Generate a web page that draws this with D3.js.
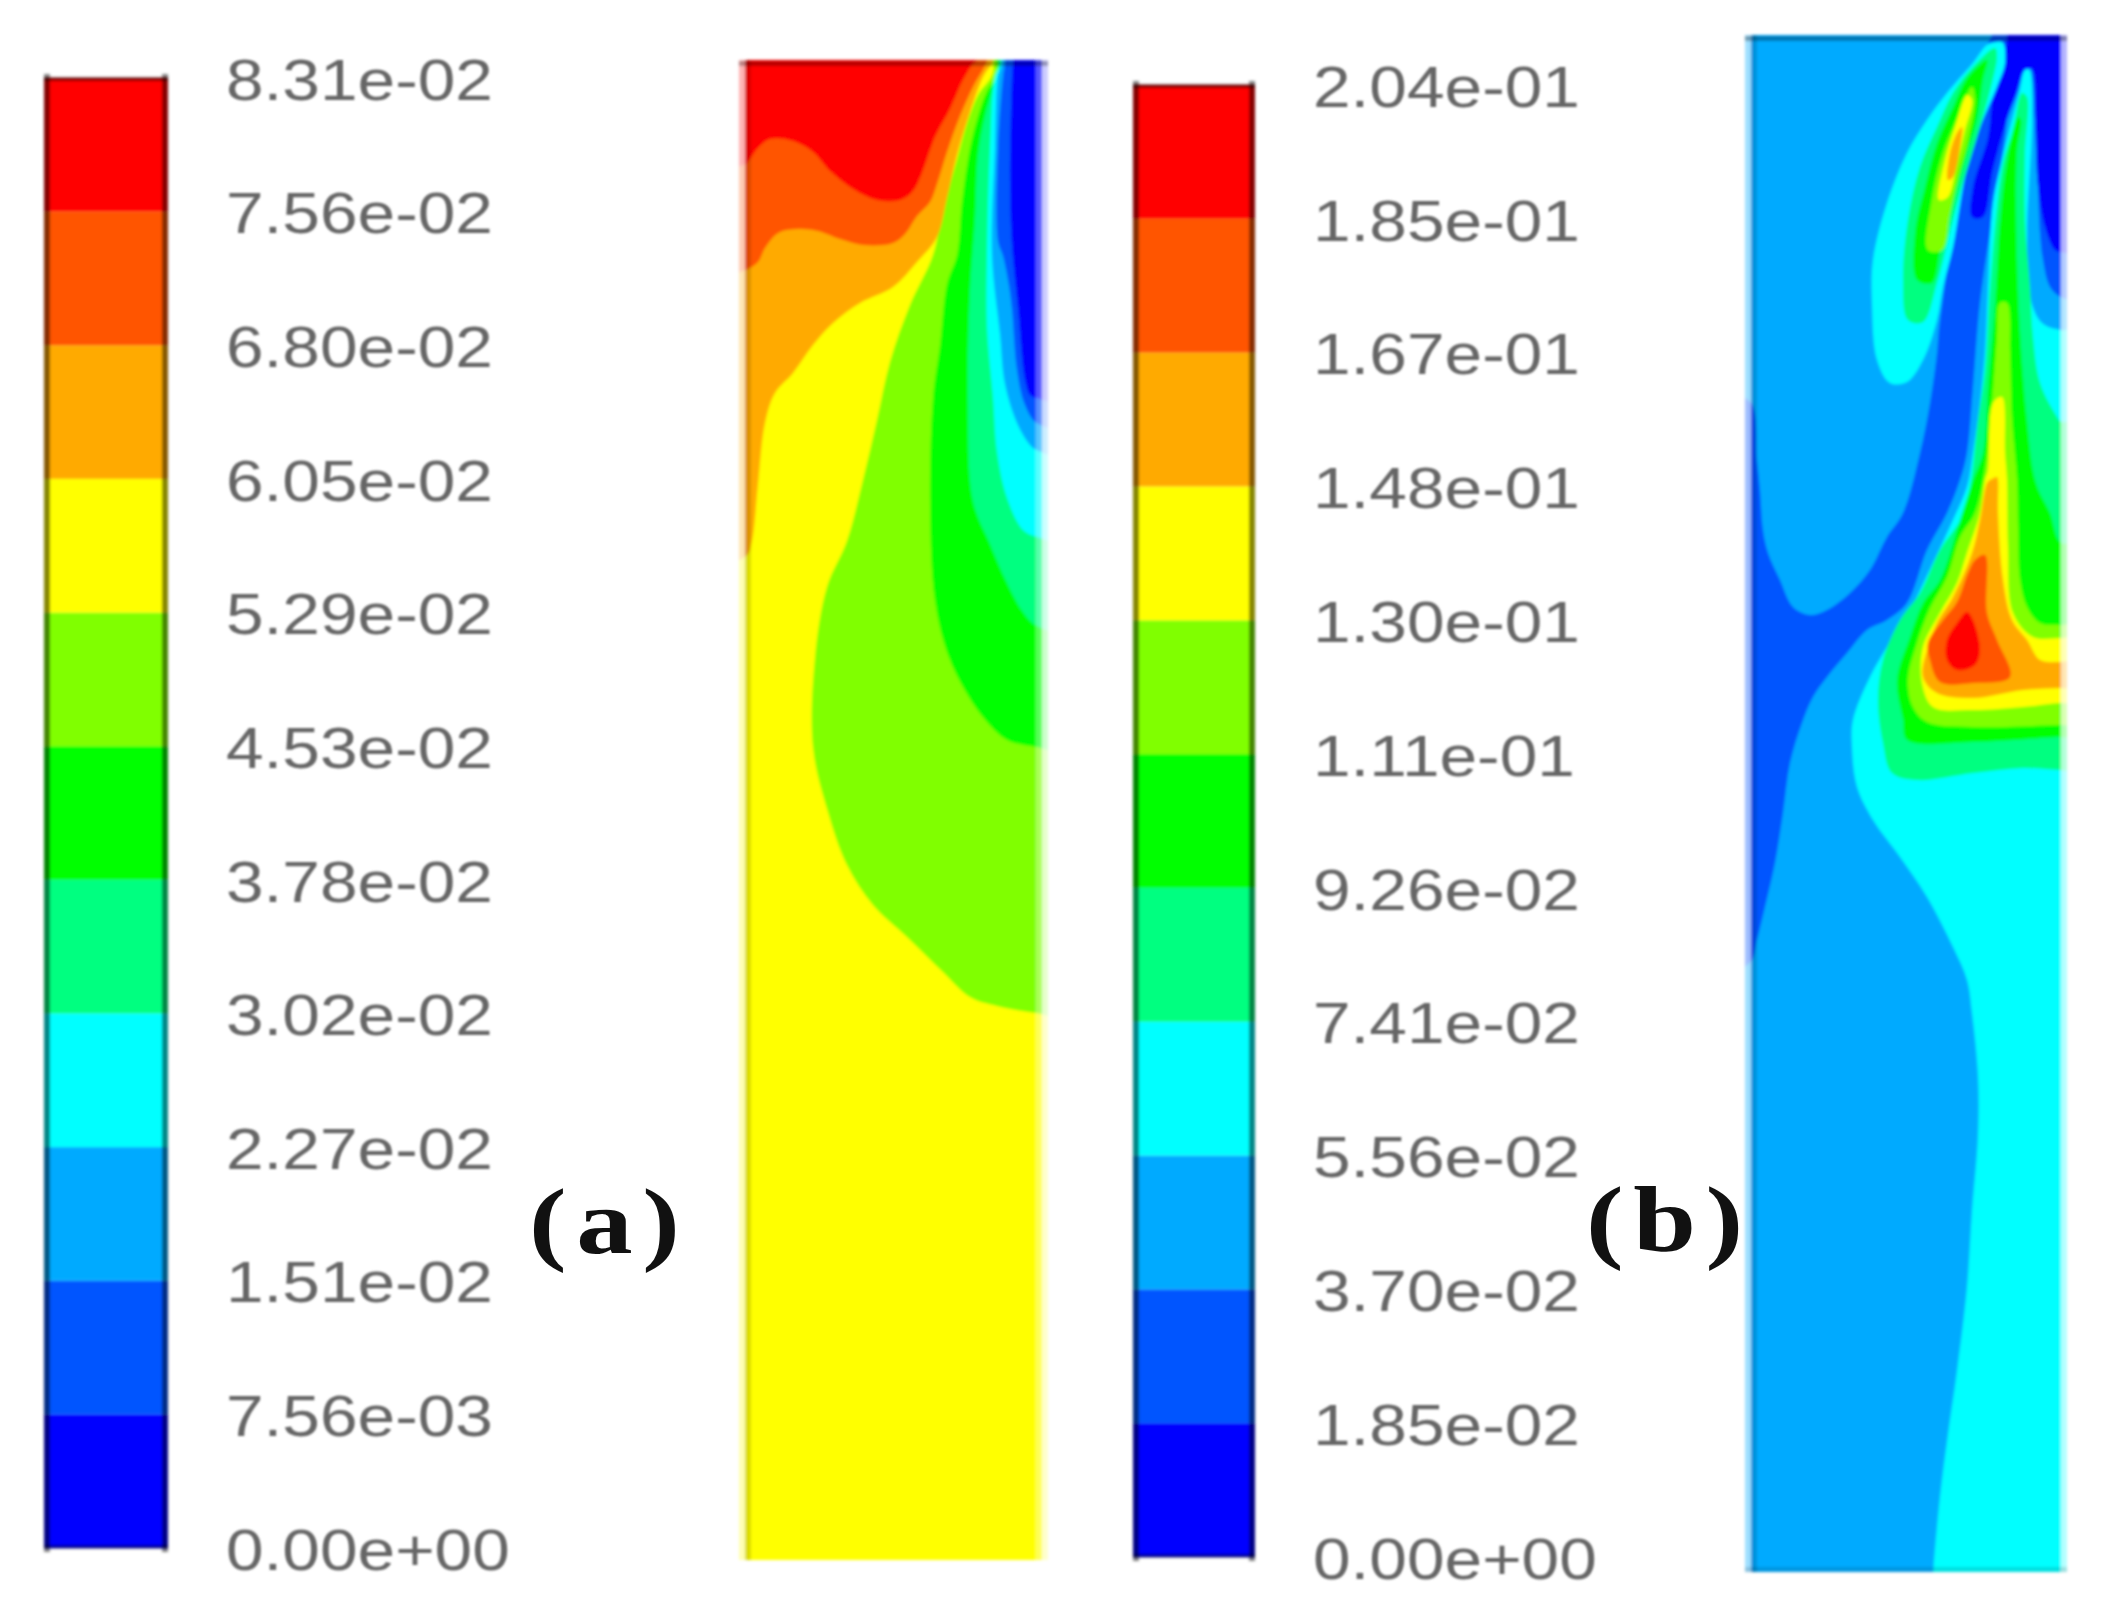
<!DOCTYPE html>
<html>
<head>
<meta charset="utf-8">
<script src="https://cdnjs.cloudflare.com/ajax/libs/d3/7.8.5/d3.min.js"></script>
<style>
  html, body { margin: 0; padding: 0; background: #fff; }
  svg { display: block; }
</style>
</head>
<body>
<div id="chart"></div>
<script>
// contour levels on the two legends
var labelsA = ['8.31e-02','7.56e-02','6.80e-02','6.05e-02','5.29e-02','4.53e-02','3.78e-02','3.02e-02','2.27e-02','1.51e-02','7.56e-03','0.00e+00'];
var labelsB = ['2.04e-01','1.85e-01','1.67e-01','1.48e-01','1.30e-01','1.11e-01','9.26e-02','7.41e-02','5.56e-02','3.70e-02','1.85e-02','0.00e+00'];
// band colours, lowest level first
var bandColors = ['#0000ff','#0055ff','#00aaff','#00ffff','#00ff80','#00ff00','#80ff00','#ffff00','#ffaa00','#ff5500','#ff0000'];

// panel (a) contour boundaries, [x, y] inside the domain 0-297 by 0-1499
var aLime = [[248,12],[233,34],[222,62],[212,98],[198,148],[188,194],[165,244],[145,301],[132,359],[118,419],[102,480],[82,526],[70,597],[68,686],[83,751],[102,804],[128,844],[162,876],[198,911],[225,936],[252,945],[292,952],[330,955],[330,-20],[248,-20]];
var aGreen = [[252,14],[242,30],[233,55],[225,87],[217,141],[212,194],[202,223],[195,284],[188,337],[185,444],[190,540],[203,594],[222,633],[242,661],[262,679],[292,686],[330,690],[330,-20],[252,-20]];
var aSpring = [[254,5],[248,26],[240,55],[233,94],[230,159],[225,230],[223,337],[228,440],[245,483],[262,522],[278,551],[292,565],[330,570],[330,-20],[254,-20]];
var aCyan = [[256,2],[250,16],[245,87],[242,194],[242,266],[248,337],[252,391],[262,437],[278,469],[292,476],[330,480],[330,-20],[256,-20]];
var aAzure = [[257,2],[253,16],[250,87],[247,194],[255,273],[260,323],[272,362],[285,384],[292,389],[330,395],[330,-20],[257,-20]];
var aBlue = [[260,2],[258,16],[253,87],[253,180],[258,195],[264,225],[267,248],[272,309],[280,344],[292,362],[330,365],[330,-20],[260,-20]];
var aNavy = [[268,1],[267,16],[265,123],[267,184],[273,248],[280,319],[285,334],[292,337],[330,340],[330,-20],[268,-20]];
var aAmber = [[-20,500],[2,494],[7,480],[13,423],[20,362],[30,332],[48,312],[68,284],[88,262],[115,242],[148,226],[172,201],[192,176],[202,137],[212,94],[225,51],[238,16],[248,0],[252,-20],[-20,-20]];
var aOrange = [[-20,212],[0,209],[13,201],[20,187],[35,171],[68,169],[95,178],[118,184],[148,182],[160,173],[172,155],[185,141],[192,123],[202,91],[215,55],[228,26],[242,0],[246,-20],[-20,-20]];
var aRed = [[-20,105],[0,103],[13,87],[25,78],[48,80],[68,91],[85,110],[108,128],[132,139],[155,139],[168,130],[177,112],[190,76],[205,48],[218,19],[228,3],[233,-2],[236,-20],[-20,-20]];

// panel (b) contour boundaries, [x, y] inside the domain 0-310 by 0-1535
var bBand = [[242,-3],[189,284],[186,317],[179,367],[169,417],[152,477],[136,501],[119,534],[99,557],[76,574],[59,579],[42,571],[29,544],[17,517],[12,494],[9,454],[6,424],[0,367],[-20,360],[-20,935],[0,925],[6,904],[14,871],[24,827],[32,777],[39,727],[51,687],[62,661],[76,641],[96,617],[116,594],[136,584],[156,567],[176,514],[196,477],[209,444],[216,417],[222,351],[229,267],[241,184],[256,84],[259,17],[262,-20]];
var bWedge = [[262,-20],[330,-20],[330,262],[310,261],[299,251],[292,224],[289,197],[285,100],[278,20]];
var bNavy = [[256,-3],[252,27],[242,57],[237,101],[222,151],[221,181],[232,181],[242,134],[256,84],[266,57],[274,34],[281,34],[284,84],[287,151],[294,191],[304,214],[310,216],[330,216],[330,-20],[256,-20]];
var bCyan = [[182,1560],[182,1541],[189,1461],[197,1398],[206,1335],[216,1251],[221,1175],[227,1099],[227,1040],[221,977],[216,944],[202,911],[176,861],[149,821],[122,784],[106,751],[101,711],[102,684],[119,641],[136,611],[159,574],[182,527],[202,484],[216,451],[222,417],[229,367],[234,317],[237,251],[242,167],[251,124],[261,84],[269,54],[274,34],[278,34],[281,84],[276,197],[279,261],[291,287],[310,294],[330,294],[330,1560]];
var bSpring = [[271,57],[262,94],[252,127],[246,171],[239,251],[234,334],[227,384],[219,451],[211,481],[189,514],[169,557],[149,584],[132,624],[127,664],[132,707],[141,737],[166,744],[222,737],[272,732],[310,734],[330,734],[330,386],[310,386],[306,381],[289,347],[282,301],[279,251],[274,184],[274,117],[276,61]];
var bGreen = [[267,81],[256,124],[249,184],[244,267],[237,351],[232,417],[222,444],[209,484],[189,544],[172,567],[159,601],[146,644],[152,684],[156,704],[222,706],[310,701],[330,701],[330,507],[310,507],[299,477],[285,447],[276,384],[267,251],[266,117],[270,84]];
var bLime = [[249,267],[246,301],[241,367],[234,434],[224,477],[209,501],[196,541],[179,572],[166,607],[157,644],[162,671],[176,686],[222,691],[310,689],[330,689],[330,589],[310,589],[289,587],[276,571],[269,544],[267,494],[266,444],[261,384],[259,317],[256,267]];
var bYellow = [[242,367],[237,434],[234,444],[229,477],[216,517],[206,547],[189,577],[172,611],[171,647],[182,671],[222,674],[272,671],[310,667],[330,667],[330,602],[310,602],[282,601],[262,577],[257,511],[256,444],[254,417],[251,361]];
var bAmber = [[246,441],[239,444],[236,447],[229,484],[221,517],[202,561],[186,587],[177,611],[172,641],[186,657],[222,662],[272,654],[310,652],[330,652],[330,625],[310,626],[289,624],[276,604],[261,584],[252,544],[247,477],[247,444]];
var bOrange = [[224,524],[234,519],[236,577],[246,604],[259,641],[222,647],[189,646],[179,624],[177,607],[192,584],[206,566],[217,537]];
var bRed = [[216,576],[222,584],[229,614],[224,629],[206,634],[196,624],[196,604],[206,587]];
// top plume of panel (b)
var pCyan = [[246,6],[236,9],[222,27],[196,57],[176,84],[156,117],[136,167],[122,224],[121,267],[126,324],[139,347],[156,346],[172,324],[186,284],[192,251],[202,211],[216,131],[229,91],[246,51],[254,27],[252,7]];
var pSpring = [[244,12],[222,31],[202,57],[186,91],[169,131],[157,184],[152,244],[157,284],[172,286],[186,247],[197,204],[209,157],[219,124],[231,84],[241,47],[246,21]];
var pGreen = [[236,24],[216,42],[202,71],[186,107],[174,151],[164,197],[166,244],[181,247],[189,217],[197,187],[206,151],[216,117],[226,84],[232,44]];
var pLime = [[221,51],[207,81],[192,117],[181,164],[177,214],[191,214],[199,177],[207,141],[217,104],[224,64]];
var pYellow = [[216,59],[204,91],[194,124],[188,164],[197,161],[206,127],[214,94],[221,64]];
var pAmber = [[206,97],[199,117],[197,144],[202,141],[209,111],[211,91]];

var W = 2117, H = 1623;
var svg = d3.select('#chart').append('svg').attr('width', W).attr('height', H);
var defs = svg.append('defs');
defs.append('filter').attr('id', 'soft').attr('x', '-5%').attr('y', '-5%').attr('width', '110%').attr('height', '110%')
    .append('feGaussianBlur').attr('stdDeviation', 1.6);
defs.append('filter').attr('id', 'softText').attr('x', '-5%').attr('y', '-20%').attr('width', '110%').attr('height', '140%')
    .append('feGaussianBlur').attr('stdDeviation', 0.9);

var line = d3.line().curve(d3.curveCatmullRomClosed.alpha(0.5));

function drawLegend(labels, left, right, top, bottom) {
    // the levels are evenly spaced on the bar
    var y = d3.scalePoint().domain(labels).range([top, bottom]);
    var asc = labels.slice().reverse();
    var g = svg.append('g');
    var bars = g.append('g').attr('filter', 'url(#soft)');
    bars.selectAll('rect.band').data(bandColors).enter().append('rect')
        .attr('class', 'band')
        .attr('x', left).attr('width', right - left)
        .attr('y', function(d, i) { return y(asc[i + 1]); })
        .attr('height', function(d, i) { return y(asc[i]) - y(asc[i + 1]); })
        .attr('fill', function(d) { return d; });
    // dark scan edges of the bar
    bars.append('rect').attr('x', left).attr('y', top - 4).attr('width', 6).attr('height', bottom - top + 8).attr('fill', '#000').attr('opacity', 0.48);
    bars.append('rect').attr('x', right - 6).attr('y', top - 4).attr('width', 6).attr('height', bottom - top + 8).attr('fill', '#000').attr('opacity', 0.48);
    bars.append('rect').attr('x', left).attr('y', top - 1).attr('width', right - left).attr('height', 4).attr('fill', '#000').attr('opacity', 0.5);
    bars.append('rect').attr('x', left).attr('y', bottom - 3).attr('width', right - left).attr('height', 4).attr('fill', '#000').attr('opacity', 0.4);

    var axis = d3.axisRight(y).tickSize(0).tickPadding(0);
    var ax = g.append('g').attr('transform', 'translate(' + right + ',0)').attr('filter', 'url(#softText)').call(axis);
    ax.select('.domain').remove();
    // the scan is stretched sideways, so the labels are too
    ax.selectAll('text')
        .attr('font-family', '"Liberation Sans"')
        .attr('font-size', 57)
        .attr('fill', '#666')
        .attr('x', 0)
        .attr('transform', 'translate(58,3) scale(1.186,1)');
}

function drawPanel(id, layers, base, x0, x1, y0, y1, domX, domY) {
    var x = d3.scaleLinear().domain([0, domX]).range([x0, x1]);
    var y = d3.scaleLinear().domain([0, domY]).range([y0, y1]);
    defs.append('clipPath').attr('id', id)
        .append('rect').attr('x', x0 - 6).attr('y', y0 - 1).attr('width', x1 - x0 + 12).attr('height', y1 - y0 + 2);
    var g = svg.append('g').attr('filter', 'url(#soft)');
    var c = g.append('g').attr('clip-path', 'url(#' + id + ')');
    c.append('rect').attr('x', x0 - 6).attr('y', y0 - 1).attr('width', x1 - x0 + 12).attr('height', y1 - y0 + 2).attr('fill', base);
    c.selectAll('path').data(layers).enter().append('path')
        .attr('fill', function(d) { return d.color; })
        .attr('d', function(d) {
            return line(d.points.map(function(p) { return [x(p[0]), y(p[1])]; }));
        });
    return { g: g, x0: x0, x1: x1, y0: y0, y1: y1 };
}

// washed out / dark rims left by the scan
function rims(p, list) {
    p.g.selectAll('rect.rim').data(list).enter().append('rect')
        .attr('class', 'rim')
        .attr('x', function(d) { return d[0] === 'L' ? p.x0 + d[1] : d[0] === 'R' ? p.x1 + d[1] : p.x0 - 6; })
        .attr('y', function(d) { return d[0] === 'T' ? p.y0 + d[1] : d[0] === 'B' ? p.y1 + d[1] : p.y0 - 1; })
        .attr('width', function(d) { return d[0] === 'L' || d[0] === 'R' ? 6 : p.x1 - p.x0 + 12; })
        .attr('height', function(d) { return d[0] === 'L' || d[0] === 'R' ? p.y1 - p.y0 + 2 : 5; })
        .attr('fill', function(d) { return d[2]; })
        .attr('opacity', function(d) { return d[3]; });
}

drawLegend(labelsA, 44, 168, 78, 1548);
drawLegend(labelsB, 1133, 1255, 85, 1557);

var layersA = [
    { color: bandColors[6], points: aLime },
    { color: bandColors[5], points: aGreen },
    { color: bandColors[4], points: aSpring },
    { color: bandColors[3], points: aCyan },
    { color: bandColors[2], points: aAzure },
    { color: bandColors[1], points: aBlue },
    { color: bandColors[0], points: aNavy },
    { color: bandColors[8], points: aAmber },
    { color: bandColors[9], points: aOrange },
    { color: bandColors[10], points: aRed }
];
var layersB = [
    { color: bandColors[1], points: bBand },
    { color: bandColors[1], points: bWedge },
    { color: bandColors[0], points: bNavy },
    { color: bandColors[3], points: bCyan },
    { color: bandColors[4], points: bSpring },
    { color: bandColors[5], points: bGreen },
    { color: bandColors[6], points: bLime },
    { color: bandColors[7], points: bYellow },
    { color: bandColors[8], points: bAmber },
    { color: bandColors[9], points: bOrange },
    { color: bandColors[10], points: bRed },
    { color: bandColors[3], points: pCyan },
    { color: bandColors[4], points: pSpring },
    { color: bandColors[5], points: pGreen },
    { color: bandColors[6], points: pLime },
    { color: bandColors[7], points: pYellow },
    { color: bandColors[8], points: pAmber }
];

var panelA = drawPanel('clipA', layersA, bandColors[7], 745, 1042, 61, 1559, 297, 1498);
var panelB = drawPanel('clipB', layersB, bandColors[2], 1751, 2061, 36, 1571, 310, 1535);

rims(panelA, [['L', -6, '#fff', 0.7], ['L', 0, '#000', 0.14], ['R', -6, '#fff', 0.35], ['R', 0, '#fff', 0.8], ['T', 0, '#000', 0.28]]);
rims(panelB, [['L', -6, '#fff', 0.62], ['L', 0, '#000', 0.14], ['R', 0, '#fff', 0.7], ['T', 0, '#000', 0.3], ['B', -4, '#000', 0.12]]);

// panel tags
var tags = [['(a)', 529, 1253], ['(b)', 1586, 1251]];
svg.selectAll('text.tag').data(tags).enter().append('text')
    .attr('class', 'tag')
    .attr('transform', function(d) { return 'translate(' + d[1] + ',' + d[2] + ') scale(1.2,1)'; })
    .attr('font-family', '"Liberation Serif"')
    .attr('font-weight', 'bold')
    .attr('font-size', 94)
    .attr('letter-spacing', 8)
    .attr('fill', '#111')
    .text(function(d) { return d[0]; });
</script>
</body>
</html>
